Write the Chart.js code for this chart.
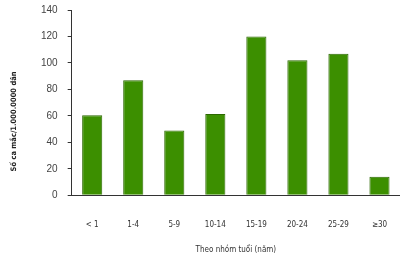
<!DOCTYPE html>
<html>
<head>
<meta charset="utf-8">
<script src="https://cdn.jsdelivr.net/npm/chart.js@4"></script>
<style>
  html, body { margin: 0; padding: 0; background: #fff; }
  #wrap { width: 400px; height: 258px; }
</style>
</head>
<body>
<div id="wrap"><canvas id="chart"></canvas></div>
<script>
// Data
const ageGroups = ['< 1', '1-4', '5-9', '10-14', '15-19', '20-24', '25-29', '≥30'];
const casesPerMillion = [60.5, 87, 49, 61.5, 120, 102, 107, 14];
const yTicks = [0, 20, 40, 60, 80, 100, 120, 140];

const xTitle = 'Theo nhóm tuổi (năm)';
const yTitle = 'Số ca mắc/1.000.0000 dân';

const ctx = document.getElementById('chart').getContext('2d');
const chart = new Chart(ctx, {
    type: 'bar',
    data: {
        labels: ageGroups,
        datasets: [{
            data: casesPerMillion,
            backgroundColor: '#3c8f00',
            borderColor: '#2c6800',
            borderWidth: 1,
            barPercentage: 0.49,
            categoryPercentage: 1
        }]
    },
    options: {
        responsive: true,
        maintainAspectRatio: false,
        animation: false,
        layout: { padding: { top: 10, right: 0, left: 10, bottom: 3 } },
        plugins: {
            legend: { display: false },
            tooltip: { enabled: false }
        },
        scales: {
            y: {
                min: 0,
                max: 140,
                afterBuildTicks: axis => {
                    axis.ticks = yTicks.map(v => ({ value: v }));
                },
                // don't reserve extra room above the top label
                afterFit: axis => {
                    axis.paddingTop = 0;
                    axis.paddingBottom = 0;
                },
                grid: {
                    display: true,
                    drawOnChartArea: false,
                    drawTicks: true,
                    tickLength: 4,
                    color: '#333'
                },
                border: { display: true, color: '#333', width: 1 },
                ticks: {
                    color: '#444',
                    padding: 10,
                    font: { family: 'Liberation Sans', size: 10 }
                },
                title: {
                    display: true,
                    // trailing spaces push the rotated title down a little, like the original
                    text: yTitle + '                ',
                    color: '#222',
                    padding: { top: 0, bottom: 12 },
                    font: { family: 'DejaVu Sans Condensed', size: 7.5, weight: 'bold' }
                }
            },
            x: {
                grid: { display: false, drawTicks: true, tickLength: 20 },
                border: { display: true, color: '#333', width: 1 },
                ticks: {
                    color: '#333',
                    padding: 5,
                    maxRotation: 0,
                    font: { family: 'DejaVu Sans Condensed', size: 8 }
                },
                title: {
                    display: true,
                    text: xTitle,
                    color: '#333',
                    padding: { top: 10.5, bottom: 0 },
                    font: { family: 'DejaVu Sans Condensed', size: 8 }
                }
            }
        }
    }
});
</script>
</body>
</html>
